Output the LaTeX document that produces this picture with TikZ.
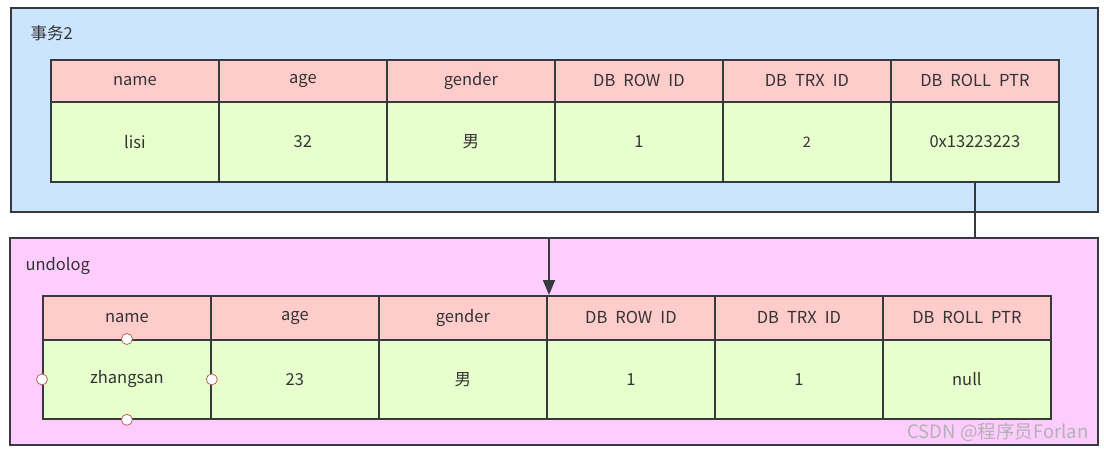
\documentclass[tikz,border=0pt]{standalone}
\usepackage{fontspec}
\setmainfont{Noto Sans CJK SC}
\usetikzlibrary{arrows.meta}
\definecolor{bluebg}{HTML}{CCE5FF}
\definecolor{pinkbg}{HTML}{FFCCFF}
\definecolor{hdr}{HTML}{FFCCCC}
\definecolor{dat}{HTML}{E6FFCC}
\definecolor{edge}{HTML}{36393D}
\definecolor{handle}{HTML}{B85450}
\newcommand{\gap}{\hspace{8pt}}
\tikzset{
  frame/.style={draw=edge, line width=1.6pt, anchor=north west, inner sep=0pt},
  cell/.style={draw=edge, line width=1.8pt, anchor=north west, inner sep=0pt, minimum width=168pt, font=\fontsize{16.5}{18}\selectfont, text=black!80},
  hcell/.style={cell, fill=hdr},
  dcell/.style={cell, fill=dat},
  lbl/.style={anchor=west, font=\fontsize{16.5}{18}\selectfont, text=black!80},
  conn/.style={draw=edge, line width=1.8pt},
  handlept/.style={circle, draw=handle, fill=white, line width=0.7pt, minimum size=11pt, inner sep=0pt},
  wm/.style={font=\fontsize{18.5}{20}\selectfont, text=black!30, anchor=east}
}
\begin{document}
\begin{tikzpicture}[x=1pt,y=-1pt]
\useasboundingbox (0,0) rectangle (1104,451);
% outer frames
\node[frame, fill=bluebg, minimum width=1087pt, minimum height=204pt] (top) at (10,7) {};
\node[frame, fill=pinkbg, minimum width=1088pt, minimum height=207pt] (bot) at (9,237) {};
\node[lbl] (toplbl) at (27,33) {事务2};
\node[lbl] (botlbl) at (22,266) {undolog};
% top table
\foreach \t [count=\i from 0] in {name,age,gender,DB\gap ROW\gap ID,DB\gap TRX\gap ID,DB\gap ROLL\gap PTR}{
  \node[hcell, minimum height=42pt] (th\i) at (50+168*\i,59) {\t};
}
\foreach \t [count=\i from 0] in {lisi,32,男,1,{\fontsize{14.5}{16}\selectfont 2},0x13223223}{
  \node[dcell, minimum height=80pt] (td\i) at (50+168*\i,101) {\t};
}
% bottom table
\foreach \t [count=\i from 0] in {name,age,gender,DB\gap ROW\gap ID,DB\gap TRX\gap ID,DB\gap ROLL\gap PTR}{
  \node[hcell, minimum height=44pt] (bh\i) at (42+168*\i,295) {\t};
}
\foreach \t [count=\i from 0] in {zhangsan,23,男,1,1,null}{
  \node[dcell, minimum height=79pt] (bd\i) at (42+168*\i,339) {\t};
}
% connector
\coordinate (bend1) at (td5.south |- 0,238);
\coordinate (target) at (549,295);
\draw[conn, -{Triangle[length=15pt,width=12pt]}] (td5.south) -- (bend1) -- (target |- bend1) -- (target);
% selection handles
\node[handlept] (hn) at (bd0.north) {};
\node[handlept] (hs) at (bd0.south) {};
\node[handlept] (hw) at (bd0.west) {};
\node[handlept] (he) at (bd0.east) {};
% watermark
\node[wm] (mark) at (1092,432) {CSDN @程序员Forlan};
\end{tikzpicture}
\end{document}
